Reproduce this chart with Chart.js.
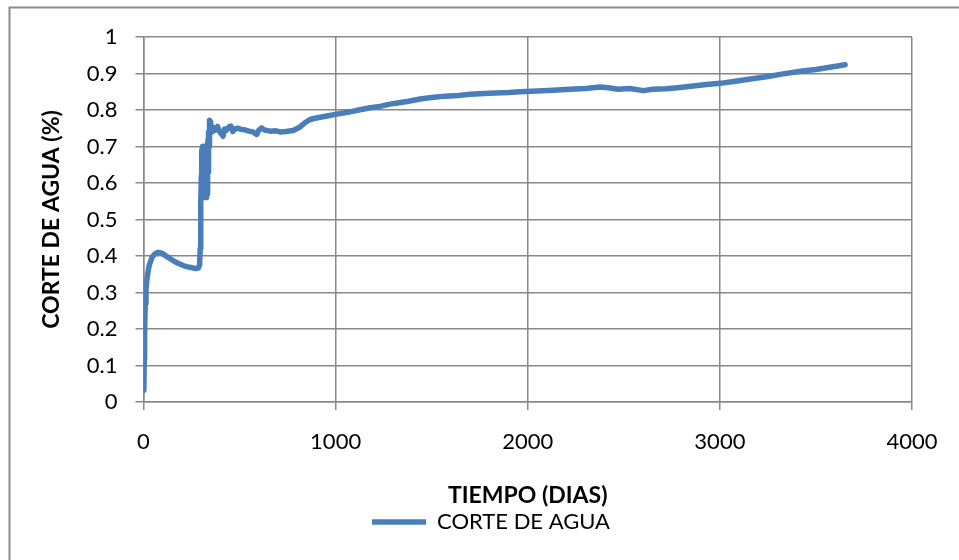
<!DOCTYPE html>
<html>
<head>
<meta charset="utf-8">
<script src="https://cdn.jsdelivr.net/npm/chart.js@4.4.1/dist/chart.umd.min.js"></script>
<style>
  html, body { margin: 0; padding: 0; background: #fff; }
  #wrap { width: 959px; height: 560px; position: relative; }
</style>
</head>
<body>
<div id="wrap"><canvas id="c" width="959" height="560"></canvas></div>
<script>
// Tiempo en días
const dias = [
  2, 4, 6, 9, 13, 20, 30, 45, 60, 77, 95, 120, 150, 180, 210, 240, 268, 285, 292,
  295, 297, 299, 301, 302, 303, 304, 305, 306, 307, 308, 309, 310, 311, 312, 313, 314,
  315, 316, 317, 318, 319, 320, 321, 322, 323, 324, 325, 326, 327, 328, 329, 330,
  331, 332, 333, 334, 335, 336, 337, 338, 339, 340, 341, 342, 343, 346, 349, 352,
  358, 366, 375, 385, 395, 405, 414, 422, 432, 445, 455, 465, 475, 490, 510, 530,
  550, 570, 589, 600, 615, 630, 660, 690, 711, 740, 779, 810, 840, 867, 900, 940,
  970, 997, 1040, 1075, 1120, 1180, 1231, 1283, 1330, 1380, 1440, 1500, 1570, 1640,
  1700, 1800, 1900, 1960, 2050, 2130, 2220, 2300, 2376, 2420, 2470, 2530, 2602,
  2650, 2720, 2780, 2861, 2930, 3002, 3080, 3160, 3250, 3329, 3420, 3500, 3580, 3652
];
// Corte de agua (fracción)
const corteAgua = [
  0.032, 0.12, 0.20, 0.27, 0.31, 0.345, 0.375, 0.397, 0.406, 0.41, 0.408, 0.399, 0.389, 0.38, 0.373, 0.369, 0.366, 0.367, 0.375,
  0.42, 0.48, 0.55, 0.62, 0.68, 0.58, 0.69, 0.57, 0.70, 0.59, 0.69, 0.56, 0.70, 0.58, 0.69, 0.57, 0.70,
  0.56, 0.69, 0.58, 0.70, 0.57, 0.69, 0.56, 0.70, 0.58, 0.69, 0.57, 0.70, 0.56, 0.69, 0.58, 0.70,
  0.57, 0.69, 0.59, 0.71, 0.60, 0.72, 0.63, 0.73, 0.66, 0.74, 0.70, 0.75, 0.74, 0.772, 0.768, 0.752,
  0.74, 0.752, 0.745, 0.755, 0.742, 0.735, 0.728, 0.748, 0.745, 0.754, 0.756, 0.741, 0.748, 0.75, 0.747, 0.745,
  0.742, 0.74, 0.733, 0.745, 0.751, 0.745, 0.742, 0.743, 0.74, 0.741, 0.744, 0.752, 0.765, 0.774, 0.778, 0.782,
  0.785, 0.788, 0.792, 0.795, 0.80, 0.806, 0.81, 0.816, 0.82, 0.824, 0.83, 0.834, 0.838, 0.84,
  0.843, 0.846, 0.848, 0.85, 0.852, 0.854, 0.857, 0.859, 0.863, 0.861, 0.857, 0.859, 0.853,
  0.857, 0.858, 0.861, 0.866, 0.87, 0.873, 0.879, 0.885, 0.892, 0.899, 0.906, 0.911, 0.918, 0.924
];
// Marcas de los ejes
const ticksX = [0, 1000, 2000, 3000, 4000];
const etiquetasX = ['0', '1000', '2000', '3000', '4000'];
const ticksY = [0, 0.1, 0.2, 0.3, 0.4, 0.5, 0.6, 0.7, 0.8, 0.9, 1];
const etiquetasY = ['0', '0.1', '0.2', '0.3', '0.4', '0.5', '0.6', '0.7', '0.8', '0.9', '1'];

const puntos = dias.map((d, i) => ({ x: d, y: corteAgua[i] }));

const FONT = 'Lato, "Open Sans", sans-serif';
const GRID = '#888888';
const AZUL = '#4a7ebb';

// Marco gris alrededor del gráfico
const marco = {
  id: 'marco',
  beforeDraw(chart) {
    const ctx = chart.ctx;
    ctx.save();
    ctx.fillStyle = '#fff';
    ctx.fillRect(0, 0, chart.width, chart.height);
    ctx.strokeStyle = '#8c8c8c';
    ctx.lineWidth = 2;
    ctx.strokeRect(9.5, 7.5, chart.width + 20, chart.height + 20);
    ctx.restore();
  }
};

new Chart(document.getElementById('c'), {
  type: 'line',
  data: {
    datasets: [{
      label: 'CORTE DE AGUA',
      data: puntos,
      borderColor: AZUL,
      backgroundColor: AZUL,
      borderWidth: 5.5,
      borderCapStyle: 'round',
      borderJoinStyle: 'round',
      pointRadius: 0,
      tension: 0,
      fill: false
    }]
  },
  options: {
    responsive: false,
    animation: false,
    events: [],
    layout: { padding: { left: 70, right: 47, top: 37, bottom: 17 } },
    plugins: {
      tooltip: { enabled: false },
      legend: {
        position: 'bottom',
        labels: {
          usePointStyle: true,
          pointStyle: 'line',
          pointStyleWidth: 54,
          boxHeight: 22,
          padding: 6,
          color: '#000',
          font: { family: FONT, size: 22 }
        }
      }
    },
    scales: {
      x: {
        type: 'linear',
        min: 0,
        max: 4000,
        afterBuildTicks(s) { s.ticks = ticksX.map(v => ({ value: v })); },
        afterFit(s) { s.height = 103; },
        grid: { color: GRID, lineWidth: 1.5, tickLength: 8, drawTicks: true },
        border: { color: GRID, width: 1.5 },
        ticks: {
          color: '#000', padding: 19, maxRotation: 0,
          font: { family: FONT, size: 22 },
          callback: (v) => etiquetasX[ticksX.indexOf(v)]
        },
        title: {
          display: true,
          text: 'TIEMPO (DIAS)',
          color: '#000',
          padding: { top: 0, bottom: -4 },
          font: { family: FONT, size: 23, weight: 'bold' }
        }
      },
      y: {
        min: 0,
        max: 1,
        afterBuildTicks(s) { s.ticks = ticksY.map(v => ({ value: v })); },
        afterFit(s) { s.width = 73.5; },
        grid: { color: GRID, lineWidth: 1.5, tickLength: 8, drawTicks: true },
        border: { color: GRID, width: 1.5 },
        ticks: {
          color: '#000', padding: 18,
          font: { family: FONT, size: 22 },
          callback: (v) => etiquetasY[ticksY.findIndex(t => Math.abs(t - v) < 1e-9)]
        },
        title: {
          display: true,
          text: 'CORTE DE AGUA (%)',
          color: '#000',
          padding: { top: -32, bottom: 0 },
          font: { family: FONT, size: 23, weight: 'bold' }
        }
      }
    }
  },
  plugins: [marco]
});
</script>
</body>
</html>
